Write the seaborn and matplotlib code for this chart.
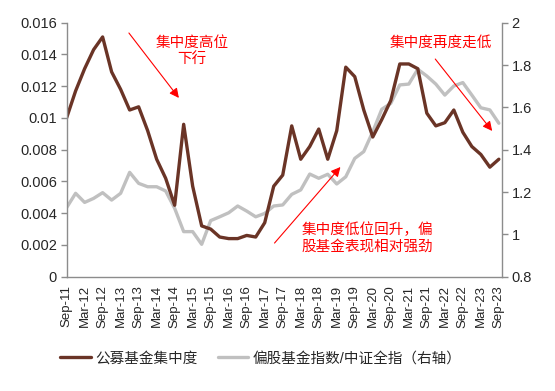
import matplotlib
matplotlib.use("Agg")
import matplotlib.pyplot as plt
import seaborn as sns
import pandas as pd
import numpy as np

# ---- data ----
quarters = []
for y in range(11, 24):
    for m in ["Mar", "Jun", "Sep", "Dec"]:
        quarters.append(f"{m}-{y}")
quarters = quarters[quarters.index("Sep-11"):quarters.index("Sep-23") + 1]

concentration = [0.0100, 0.0117, 0.0131, 0.0143, 0.0151, 0.0129, 0.0118, 0.0105, 0.0107,
                 0.0092, 0.0074, 0.0062, 0.0045, 0.0096, 0.0057, 0.0032, 0.0030, 0.0025,
                 0.0024, 0.0024, 0.0026, 0.0025, 0.0034, 0.0057, 0.0064, 0.0095, 0.0074,
                 0.0082, 0.0093, 0.0074, 0.0092, 0.0132, 0.0126, 0.0105, 0.0088, 0.0099,
                 0.0111, 0.0134, 0.0134, 0.0131, 0.0103, 0.0095, 0.0097, 0.0105, 0.0091,
                 0.0082, 0.0077, 0.0069, 0.0074]
ratio = [1.126, 1.194, 1.151, 1.170, 1.197, 1.162, 1.194, 1.293, 1.241, 1.225, 1.225,
         1.205, 1.123, 1.013, 1.013, 0.953, 1.065, 1.083, 1.102, 1.134, 1.110, 1.083,
         1.099, 1.134, 1.139, 1.189, 1.210, 1.285, 1.265, 1.284, 1.238, 1.272, 1.359,
         1.391, 1.485, 1.591, 1.619, 1.706, 1.710, 1.780, 1.748, 1.710, 1.658, 1.701,
         1.717, 1.658, 1.598, 1.588, 1.525]
tick_labels = quarters[::2]

label1 = "公募基金集中度"
label2 = "偏股基金指数/中证全指（右轴）"

df = pd.DataFrame({"idx": np.arange(len(quarters)), "quarter": quarters,
                   "conc": concentration, "ratio": ratio})

sns.set_style("white")
plt.rcParams["font.family"] = ["Liberation Sans", "Noto Sans CJK SC", "DejaVu Sans"]

brown = "#6A3426"
gray = "#C0C0C0"
spine_c = "#8C8C8C"

fig = plt.figure(figsize=(5.55, 3.91), dpi=100)
ax = fig.add_axes([0.120, 0.2923, 0.7845, 0.6497])
ax2 = ax.twinx()

sns.lineplot(data=df, x="idx", y="ratio", ax=ax2, color=gray, lw=2.4, label=label2, legend=False)
sns.lineplot(data=df, x="idx", y="conc", ax=ax, color=brown, lw=2.4, label=label1, legend=False)
ax.set_zorder(ax2.get_zorder() + 1)
ax.patch.set_visible(False)

ax.set_xlim(0, 48.35)
ax.set_ylim(0, 0.016)
ax2.set_ylim(0.8, 2.0)
ax.set_yticks(np.arange(0, 0.0161, 0.002))
ax.set_yticklabels(["0", "0.002", "0.004", "0.006", "0.008", "0.01", "0.012", "0.014", "0.016"])
ax2.set_yticks([0.8, 1.0, 1.2, 1.4, 1.6, 1.8, 2.0])
ax2.set_yticklabels(["0.8", "1", "1.2", "1.4", "1.6", "1.8", "2"])
ax.set_xticks(np.arange(0, len(quarters), 2))
ax.set_xticklabels(tick_labels, rotation=90)
ax.set_xlabel("")
ax.set_ylabel("")
ax2.set_ylabel("")

for a in (ax, ax2):
    for s in a.spines.values():
        s.set_color(spine_c)
        s.set_linewidth(1.0)
    a.spines["top"].set_visible(False)
ax.spines["right"].set_visible(False)
ax2.spines["left"].set_visible(False)
ax2.spines["bottom"].set_visible(False)

ax.tick_params(axis="y", direction="out", length=4, width=1, color=spine_c, labelsize=10.5, pad=3)
ax.tick_params(axis="x", direction="out", length=4, width=1, color=spine_c, labelsize=9.5, pad=2)
ax2.tick_params(axis="y", direction="out", length=4, width=1, color=spine_c, labelsize=10.5, pad=3)
ax.grid(False)
ax2.grid(False)

red = "#FF0000"
ap = dict(arrowstyle="-|>", color=red, lw=0.8, mutation_scale=14, shrinkA=0, shrinkB=0)
ax.annotate("", xy=(12.47, 0.01126), xytext=(6.92, 0.01535), arrowprops=ap)
ax.text(13.9, 0.01422, "集中度高位\n下行", color=red, fontsize=10.5, ha="center", va="center",
        linespacing=1.25)
ax.annotate("", xy=(47.26, 0.00918), xytext=(40.94, 0.01371), arrowprops=ap)
ax.text(41.5, 0.01472, "集中度再度走低", color=red, fontsize=10.5, ha="center", va="center")
ax.annotate("", xy=(30.41, 0.00691), xytext=(23.09, 0.00212), arrowprops=ap)
ax.text(26.1, 0.00244, "集中度低位回升，偏\n股基金表现相对强劲", color=red, fontsize=10.5,
        ha="left", va="center", linespacing=1.25)

h1, l1 = ax.get_legend_handles_labels()
h2, l2 = ax2.get_legend_handles_labels()
fig.legend(h1 + h2, l1 + l2, loc="center", bbox_to_anchor=(0.47, 0.084), ncol=2,
           frameon=False, fontsize=10.5, handlelength=2.1, columnspacing=1.4, handletextpad=0.3)

fig.savefig("out.png", dpi=100)
